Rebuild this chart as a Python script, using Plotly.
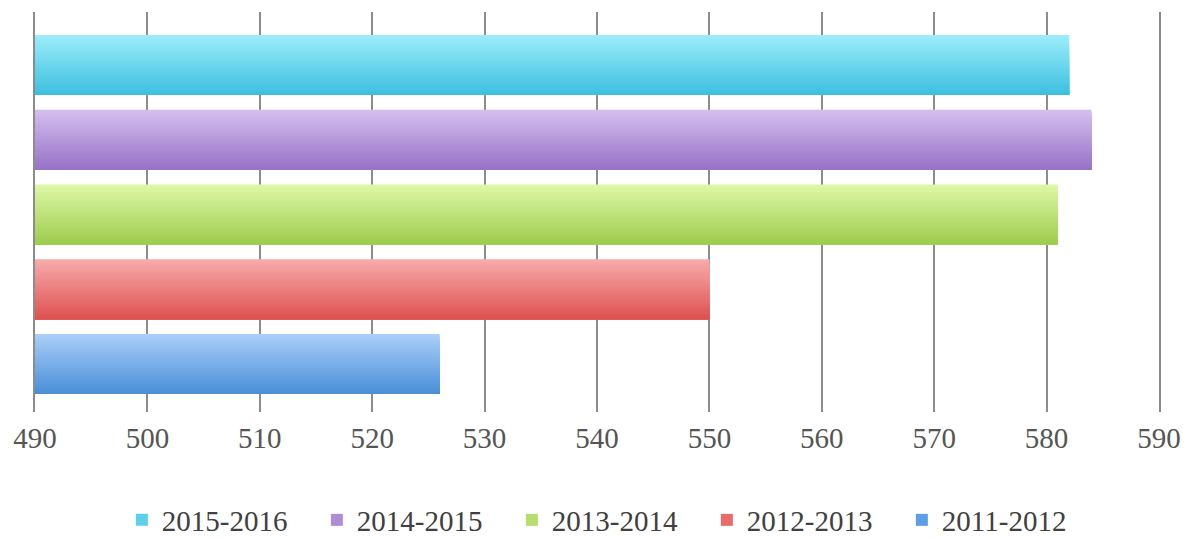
import plotly.graph_objects as go

# Seasons, listed bottom to top as they appear on the chart
seasons = ["2011-2012", "2012-2013", "2013-2014", "2014-2015", "2015-2016"]
values = [526, 550, 581, 584, 582]

# Light (top edge) and dark (bottom edge) tones of each bar's gradient
top_colors = ["#a9cef8", "#f8aaaa", "#ddf7a6", "#d3bef0", "#9cedfb"]
bottom_colors = ["#4a8fd8", "#de5252", "#9ecd4e", "#9873c6", "#3dbfdf"]
legend_colors = ["#5d9fe4", "#ea6b6b", "#b5de6e", "#ad8ed6", "#5fd0ea"]

x_ticks = list(range(490, 600, 10))

BAR_WIDTH = 0.8
STRIPES = 30


def hex_to_rgb(h):
    h = h.lstrip("#")
    return tuple(int(h[i:i + 2], 16) for i in (0, 2, 4))


def blend(c1, c2, t):
    a, b = hex_to_rgb(c1), hex_to_rgb(c2)
    r = [round(a[i] + (b[i] - a[i]) * t) for i in range(3)]
    return "rgb({},{},{})".format(*r)


fig = go.Figure()

# Each bar is painted as a stack of layers: every layer runs from a point
# further down the bar to the bar's lower edge, so darker tones cover the
# lower part and the result shades smoothly from light to dark.
for i, (name, val) in enumerate(zip(seasons, values)):
    bar_top = i + BAR_WIDTH / 2
    bar_bottom = i - BAR_WIDTH / 2
    step = BAR_WIDTH / STRIPES
    for k in range(STRIPES):
        t = k / (STRIPES - 1)
        layer_top = bar_top - k * step
        fig.add_trace(go.Bar(
            y=[(layer_top + bar_bottom) / 2], x=[val], orientation="h",
            width=layer_top - bar_bottom,
            marker=dict(color=blend(top_colors[i], bottom_colors[i], t), line=dict(width=0)),
            name=name, legendgroup=name, showlegend=False,
            hovertemplate=name + ": %{x}<extra></extra>",
        ))
    # Legend swatch for the season
    fig.add_trace(go.Bar(
        y=[None], x=[None], orientation="h",
        marker=dict(color=legend_colors[i], line=dict(width=0)),
        name=name, legendgroup=name, showlegend=True,
    ))

font_family = "Liberation Serif"

fig.update_layout(
    width=1191, height=539,
    margin=dict(l=35, r=32, t=12, b=127, autoexpand=False),
    paper_bgcolor="white", plot_bgcolor="white",
    barmode="overlay",
    font=dict(family=font_family, size=29, color="#555555"),
    xaxis=dict(
        range=[490, 590], tickvals=x_ticks,
        showgrid=True, gridcolor="#8c8c8c", gridwidth=1.6,
        zeroline=False, showline=False,
        ticks="", ticklabelstandoff=6,
        tickfont=dict(family=font_family, size=29, color="#555555"),
        fixedrange=True,
    ),
    yaxis=dict(
        range=[-0.642, 4.709],
        showgrid=False, zeroline=False, showticklabels=False,
        showline=True, linecolor="#8c8c8c", linewidth=1.6, mirror=True,
        fixedrange=True,
    ),
    legend=dict(
        orientation="h", traceorder="reversed",
        x=0.511, xanchor="center", y=-0.27, yanchor="middle",
        font=dict(family=font_family, size=29, color="#404040"),
        itemwidth=30, entrywidth=150, entrywidthmode="pixels",
        bgcolor="rgba(0,0,0,0)",
    ),
    showlegend=True,
)

fig.write_html("out.html")
